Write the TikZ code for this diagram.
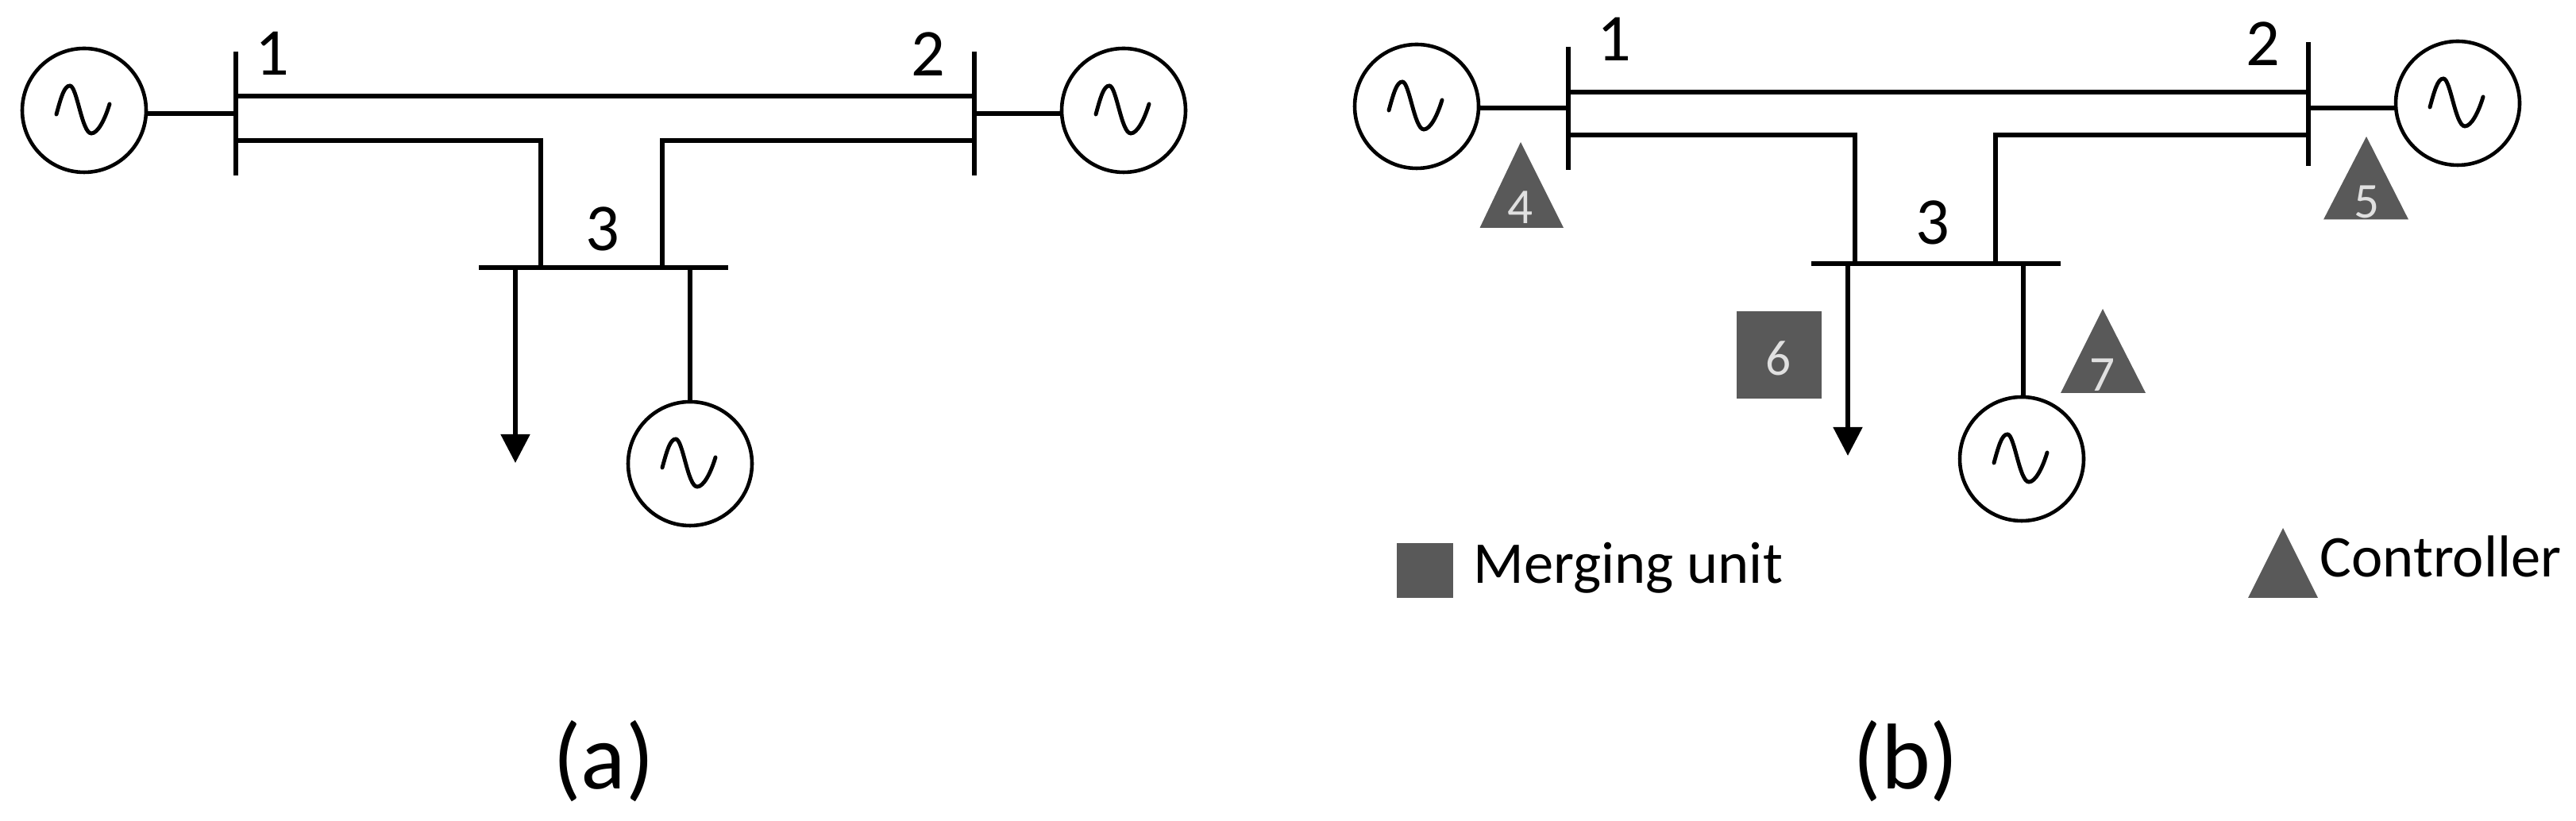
\documentclass[tikz,border=0pt]{standalone}
\usepackage{fontspec}
\setmainfont{Carlito}
\usetikzlibrary{arrows.meta}
\begin{document}
\begin{tikzpicture}
  \tikzstyle{gen}=[circle, draw, line width=1.3pt, minimum size=1.56cm, inner sep=0pt, fill=white,
    path picture={\draw[line width=1.4pt, line cap=round, shift={(path picture bounding box.center)}]
      (-.35,-.05) .. controls (-.29,.17) and (-.25,.31) .. (-.18,.31)
      .. controls (-.09,.31) and (-.03,-.29) .. (.09,-.29)
      .. controls (.17,-.29) and (.26,-.12) .. (.32,.08);}]
  \tikzstyle{line}=[line width=1.5pt]
  \tikzstyle{load}=[line width=1.5pt, -{Triangle[length=.36cm, width=.36cm]}]
  \tikzstyle{busno}=[inner sep=0pt, font=\fontsize{24}{24}\selectfont]
  \tikzstyle{unit}=[draw=none, fill=black!65, inner sep=0pt]
  \tikzstyle{unitno}=[inner sep=0pt, text=black!12, font=\fontsize{18}{18}\selectfont]
  \tikzstyle{legend}=[inner sep=0pt, anchor=base west, font=\fontsize{21.2}{21.2}\selectfont]
  \tikzstyle{caption}=[inner sep=0pt, font=\fontsize{33.5}{33.5}\selectfont]

  \useasboundingbox (0, 0) rectangle (32.44, 10.34);

  % (a)
  \node[gen] (a1) at (1.06, 8.95) {};
  \node[gen] (a2) at (14.15, 8.95) {};
  \node[gen] (a3) at (8.69, 4.50) {};

  \coordinate (b1t) at (2.97, 9.69);
  \coordinate (b1b) at (2.97, 8.13);
  \coordinate (b2t) at (12.27, 9.69);
  \coordinate (b2b) at (12.27, 8.13);
  \coordinate (b3l) at (6.03, 6.97);
  \coordinate (b3r) at (9.17, 6.97);
  \draw[line] (b1t) -- (b1b);
  \draw[line] (b2t) -- (b2b);
  \draw[line] (b3l) -- (b3r);

  \coordinate (s1) at (2.97, 8.91);
  \coordinate (s2) at (12.27, 8.91);
  \coordinate (t1) at (2.97, 9.13);
  \coordinate (t2) at (12.27, 9.13);
  \coordinate (l1) at (2.97, 8.57);
  \coordinate (l2) at (12.27, 8.57);
  \coordinate (k1) at (6.81, 8.57);
  \coordinate (k2) at (8.34, 8.57);
  \coordinate (j1) at (6.81, 6.97);
  \coordinate (j2) at (8.34, 6.97);
  \coordinate (j3) at (6.49, 6.97);
  \coordinate (j4) at (8.69, 6.97);
  \coordinate (e1) at (6.49, 4.51);

  \draw[line] (a1.east |- s1) -- (s1);
  \draw[line] (a2.west |- s2) -- (s2);
  \draw[line] (t1) -- (t2);
  \draw[line] (l1) -- (k1) -- (j1);
  \draw[line] (l2) -- (k2) -- (j2);
  \draw[line] (j4) -- (a3.north);
  \draw[load] (j3) -- (e1);

  \node[busno] (n1) at (3.43, 9.67) {1};
  \node[busno] (n2) at (11.69, 9.66) {2};
  \node[busno] (n3) at (7.59, 7.46) {3};
  \node[caption] (capa) at (7.60, 0.75) {(a)};

  % (b)
  \node[gen] (c1) at (17.84, 9.00) {};
  \node[gen] (c2) at (30.95, 9.04) {};
  \node[gen] (c3) at (25.46, 4.56) {};

  \coordinate (d1t) at (19.75, 9.75);
  \coordinate (d1b) at (19.75, 8.20);
  \coordinate (d2t) at (29.07, 9.81);
  \coordinate (d2b) at (29.07, 8.25);
  \coordinate (d3l) at (22.81, 7.02);
  \coordinate (d3r) at (25.95, 7.02);
  \draw[line] (d1t) -- (d1b);
  \draw[line] (d2t) -- (d2b);
  \draw[line] (d3l) -- (d3r);

  \coordinate (u1) at (19.75, 8.98);
  \coordinate (u2) at (29.07, 8.98);
  \coordinate (v1) at (19.75, 9.18);
  \coordinate (v2) at (29.07, 9.18);
  \coordinate (w1) at (19.75, 8.64);
  \coordinate (w2) at (29.07, 8.64);
  \coordinate (x1) at (23.36, 8.64);
  \coordinate (x2) at (25.13, 8.64);
  \coordinate (y1) at (23.36, 7.02);
  \coordinate (y2) at (25.13, 7.02);
  \coordinate (y3) at (23.27, 7.02);
  \coordinate (y4) at (25.48, 7.02);
  \coordinate (e2) at (23.27, 4.60);

  \draw[line] (c1.east |- u1) -- (u1);
  \draw[line] (c2.west |- u2) -- (u2);
  \draw[line] (v1) -- (v2);
  \draw[line] (w1) -- (x1) -- (y1);
  \draw[line] (w2) -- (x2) -- (y2);
  \draw[line] (y4) -- (y4 |- c3.north);
  \draw[load] (y3) -- (e2);

  \node[busno] (m1) at (20.33, 9.85) {1};
  \node[busno] (m2) at (28.50, 9.79) {2};
  \node[busno] (m3) at (24.34, 7.54) {3};

  \fill[black!65] (18.635, 7.47) -- (19.15, 8.55) -- (19.69, 7.47) -- cycle;
  \fill[black!65] (29.26, 7.575) -- (29.80, 8.62) -- (30.33, 7.575) -- cycle;
  \fill[black!65] (25.95, 5.39) -- (26.48, 6.45) -- (27.02, 5.39) -- cycle;
  \fill[black!65] (28.31, 2.81) -- (28.75, 3.69) -- (29.19, 2.81) -- cycle;

  \node[unit, minimum width=1.07cm, minimum height=1.095cm] (q6) at (22.405, 5.87) {};
  \node[unit, minimum width=.71cm, minimum height=.69cm] (q0) at (17.945, 3.155) {};

  \node[unitno] (no4) at (19.15, 7.73) {4};
  \node[unitno] (no5) at (29.80, 7.80) {5};
  \node[unitno] (no6) at (22.40, 5.83) {6};
  \node[unitno] (no7) at (26.48, 5.62) {7};

  \node[legend] (lm) at (18.55, 2.99) {Merging unit};
  \node[legend] (lc) at (29.21, 3.07) {Controller};
  \node[caption] (capb) at (24.00, 0.75) {(b)};

\end{tikzpicture}
\end{document}
